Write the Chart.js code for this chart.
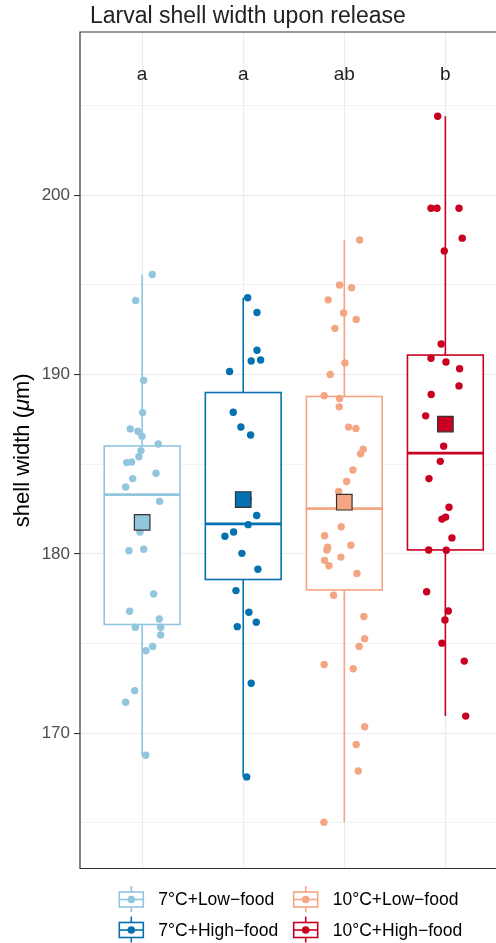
<!DOCTYPE html>
<html><head><meta charset="utf-8">
<style>html,body{margin:0;padding:0;overflow:hidden;background:#fff}#wrap{position:relative;width:496px;height:943px}canvas{display:block}</style>
</head><body>
<div id="wrap"><canvas id="c"></canvas></div>
<script src="https://cdn.jsdelivr.net/npm/chart.js@4"></script>
<script>
// ---- data ----
const categories = ['7°C+Low−food', '7°C+High−food', '10°C+Low−food', '10°C+High−food'];
const sigLetters = ['a', 'a', 'ab', 'b'];
const titleText = 'Larval shell width upon release';
const yTicks = [170, 180, 190, 200];
const yMinorTicks = [165, 175, 185, 195, 205];

const lowFood7Values = [195.59,194.14,189.68,187.88,186.97,186.84,186.56,186.13,185.76,185.42,185.09,185.13,184.50,184.20,183.73,182.93,181.22,180.18,180.26,177.76,176.80,176.37,175.91,175.91,175.48,174.83,174.60,172.37,171.72,168.77];
const lowFood7Jitter = [0.100,-0.064,0.015,0.005,-0.118,-0.042,-0.002,0.159,-0.012,-0.032,-0.153,-0.104,0.137,-0.094,-0.163,0.173,-0.022,-0.131,0.015,0.114,-0.124,0.169,-0.068,0.183,0.183,0.104,0.038,-0.074,-0.163,0.035];

const highFood7Values = [194.29,193.46,191.36,190.76,190.81,190.17,187.90,187.08,186.63,183.06,182.14,181.63,181.22,180.98,180.03,179.14,177.95,176.74,176.19,175.94,172.78,167.56];
const highFood7Jitter = [0.044,0.136,0.136,0.079,0.172,-0.135,-0.099,-0.023,0.073,0.049,0.133,0.049,-0.095,-0.181,-0.013,0.145,-0.072,0.056,0.129,-0.059,0.079,0.034];

const lowFood10Values = [197.51,195.00,194.85,194.17,193.44,193.07,192.58,190.65,190.01,188.82,188.67,188.20,187.07,187.00,185.84,185.58,184.68,184.04,183.48,181.51,181.01,180.37,180.22,180.48,179.82,179.64,179.34,178.91,177.69,176.51,175.27,174.84,173.83,173.59,170.36,169.37,167.89,165.03];
const lowFood10Jitter = [0.151,-0.047,0.072,-0.159,-0.007,0.118,-0.093,0.006,-0.140,-0.199,-0.047,-0.050,0.043,0.115,0.187,0.161,0.085,0.023,-0.056,-0.031,-0.195,-0.165,-0.172,0.065,-0.034,-0.195,-0.152,0.125,-0.106,0.194,0.201,0.147,-0.199,0.088,0.201,0.118,0.138,-0.202];

const highFood10Values = [204.41,199.28,199.28,199.28,197.61,196.90,191.71,190.91,190.70,190.33,189.37,188.89,187.70,186.01,185.16,184.20,182.60,182.05,181.94,180.89,180.22,180.20,177.89,176.81,176.31,175.02,174.02,170.95];
const highFood10Jitter = [-0.076,-0.142,-0.083,0.135,0.167,-0.011,-0.041,-0.142,0.006,0.141,0.135,-0.140,-0.195,-0.017,-0.050,-0.162,0.036,0.003,-0.034,0.065,-0.165,0.009,-0.185,0.029,-0.004,-0.034,0.187,0.201];

// box statistics per group
const whiskerLow  = [168.77, 167.56, 165.03, 170.95];
const q1          = [176.06, 178.57, 177.99, 180.22];
const medians     = [183.31, 181.67, 182.52, 185.62];
const q3          = [186.02, 189.00, 188.78, 191.09];
const whiskerHigh = [195.59, 194.29, 197.51, 204.41];
const means       = [181.76, 183.03, 182.88, 187.24];
const letterValue = 206.45;

// ---- style ----
const colors = ['#92C5DE', '#0571B0', '#F4A582', '#CA0020'];
const FONT = '"Liberation Sans", Arial, Helvetica, sans-serif';
const boxHalf = 0.375;

const groupValues = [lowFood7Values, highFood7Values, lowFood10Values, highFood10Values];
const groupJitter = [lowFood7Jitter, highFood7Jitter, lowFood10Jitter, highFood10Jitter];

const pointSets = groupValues.map((vals, g) => ({
  label: categories[g],
  data: vals.map((v, i) => ({ x: g + 1 + groupJitter[g][i], y: v })),
  pointRadius: 3.7,
  pointHoverRadius: 3.7,
  pointBackgroundColor: colors[g],
  pointBorderWidth: 0,
  showLine: false,
  order: 2
}));
const meanSet = {
  label: 'mean',
  data: means.map((m, g) => ({ x: g + 1, y: m })),
  pointStyle: 'rect',
  pointRadius: 11,
  pointHoverRadius: 11,
  pointBackgroundColor: colors,
  pointBorderColor: '#333333',
  pointBorderWidth: 1.2,
  showLine: false,
  order: 1
};

const boxPlugin = {
  id: 'boxes',
  beforeDatasetsDraw(chart) {
    const { ctx, scales: { x, y } } = chart;
    ctx.save();
    for (let g = 0; g < categories.length; g++) {
      const c = g + 1;
      const xl = x.getPixelForValue(c - boxHalf), xr = x.getPixelForValue(c + boxHalf), xc = x.getPixelForValue(c);
      const yq1 = y.getPixelForValue(q1[g]), yq3 = y.getPixelForValue(q3[g]);
      ctx.strokeStyle = colors[g];
      ctx.lineWidth = 1.6;
      ctx.beginPath();
      ctx.moveTo(xc, y.getPixelForValue(whiskerHigh[g])); ctx.lineTo(xc, yq3);
      ctx.moveTo(xc, yq1); ctx.lineTo(xc, y.getPixelForValue(whiskerLow[g]));
      ctx.stroke();
      ctx.fillStyle = '#ffffff';
      ctx.fillRect(xl, yq3, xr - xl, yq1 - yq3);
      ctx.strokeRect(xl, yq3, xr - xl, yq1 - yq3);
      ctx.lineWidth = 2.8;
      const ym = y.getPixelForValue(medians[g]);
      ctx.beginPath(); ctx.moveTo(xl, ym); ctx.lineTo(xr, ym); ctx.stroke();
    }
    ctx.restore();
  }
};

const decoPlugin = {
  id: 'deco',
  afterDraw(chart) {
    const { ctx, chartArea: a, scales: { x, y } } = chart;
    ctx.save();
    // panel border (right edge lies outside the picture)
    ctx.strokeStyle = '#333333';
    ctx.lineWidth = 1.2;
    ctx.beginPath();
    ctx.moveTo(a.right + 2, a.top); ctx.lineTo(a.left, a.top); ctx.lineTo(a.left, a.bottom); ctx.lineTo(a.right + 2, a.bottom);
    ctx.stroke();
    ctx.fillStyle = '#222';
    ctx.font = '23px ' + FONT;
    ctx.textAlign = 'left';
    ctx.textBaseline = 'alphabetic';
    ctx.fillText(titleText, a.left + 10, a.top - 9);
    ctx.font = '19px ' + FONT;
    ctx.textAlign = 'center';
    sigLetters.forEach((t, g) => ctx.fillText(t, x.getPixelForValue(g + 1), y.getPixelForValue(letterValue)));
    ctx.save();
    ctx.translate(29, (a.top + a.bottom) / 2);
    ctx.rotate(-Math.PI / 2);
    ctx.fillStyle = '#000';
    const p1 = 'shell width (', p2 = 'μ', p3 = 'm)';
    const fN = '22px ' + FONT, fI = 'italic 22px ' + FONT;
    ctx.font = fN; const w1 = ctx.measureText(p1).width, w3 = ctx.measureText(p3).width;
    ctx.font = fI; const w2 = ctx.measureText(p2).width;
    let sx = -(w1 + w2 + w3) / 2;
    ctx.textAlign = 'left';
    ctx.font = fN; ctx.fillText(p1, sx, 0); sx += w1;
    ctx.font = fI; ctx.fillText(p2, sx, 0); sx += w2;
    ctx.font = fN; ctx.fillText(p3, sx, 0);
    ctx.restore();
    const colX = [131.3, 305.7];
    const rowY = [a.bottom + 31, a.bottom + 61.5];
    [0, 1, 2, 3].forEach(g => {
      const cx = colX[Math.floor(g / 2)], cy = rowY[g % 2];
      ctx.strokeStyle = colors[g];
      ctx.lineWidth = 1.6;
      ctx.beginPath();
      ctx.moveTo(cx, cy - 13.5); ctx.lineTo(cx, cy - 7.5);
      ctx.moveTo(cx, cy + 7.5); ctx.lineTo(cx, cy + 12.5);
      ctx.stroke();
      ctx.strokeRect(cx - 12, cy - 7.5, 24, 15);
      ctx.beginPath(); ctx.moveTo(cx - 12, cy); ctx.lineTo(cx + 12, cy); ctx.stroke();
      ctx.fillStyle = colors[g];
      ctx.beginPath(); ctx.arc(cx, cy, 3.8, 0, Math.PI * 2); ctx.fill();
      ctx.fillStyle = '#000';
      ctx.font = '17.5px ' + FONT;
      ctx.textAlign = 'left';
      ctx.textBaseline = 'middle';
      ctx.fillText(categories[g], cx + 27, cy + 1);
    });
    ctx.restore();
  }
};

new Chart(document.getElementById('c'), {
  type: 'scatter',
  data: { datasets: [...pointSets, meanSet] },
  options: {
    responsive: true,
    maintainAspectRatio: false,
    animation: false,
    devicePixelRatio: 1,
    events: [],
    layout: { autoPadding: false, padding: { top: 32, left: 0, right: 0, bottom: 0 } },
    plugins: { legend: { display: false }, tooltip: { enabled: false }, title: { display: false } },
    scales: {
      x: {
        type: 'linear', min: 0.385, max: 4.501,
        afterBuildTicks: s => { s.ticks = [1, 2, 3, 4].map(v => ({ value: v })); },
        ticks: { display: false },
        grid: { color: '#EBEBEB', lineWidth: 1.1, drawTicks: false },
        border: { display: false },
        afterFit: s => { s.height = 74.5; }
      },
      y: {
        min: 162.45, max: 209.11,
        afterBuildTicks: s => { s.ticks = [...yTicks, ...yMinorTicks].sort((p, q) => p - q).map(v => ({ value: v })); },
        ticks: {
          callback: v => (yTicks.includes(v) ? String(v) : ''),
          font: { family: FONT, size: 17 }, color: '#4D4D4D', padding: 4
        },
        grid: {
          color: '#EBEBEB',
          lineWidth: c => (yTicks.includes(c.tick && c.tick.value) ? 1.1 : 0.6),
          tickLength: 6,
          tickColor: c => (yTicks.includes(c.tick && c.tick.value) ? '#333333' : 'rgba(0,0,0,0)'),
          tickWidth: 1.1
        },
        border: { display: false },
        afterFit: s => { s.width = 80; }
      }
    }
  },
  plugins: [boxPlugin, decoPlugin]
});
</script>
</body></html>
